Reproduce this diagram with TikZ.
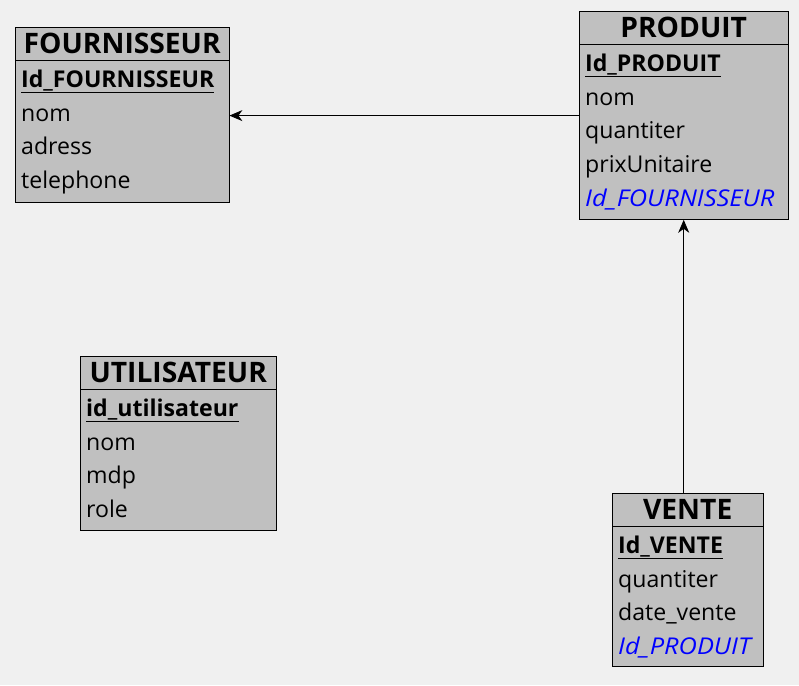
\documentclass[tikz,border=0pt]{standalone}
\usepackage{fontspec}
\setmainfont{Open Sans}[ItalicFeatures={FakeStretch=1.1}]
\usetikzlibrary{arrows.meta, positioning, calc}
\definecolor{tablegray}{HTML}{C0C0C0}
\definecolor{canvas}{HTML}{F0F0F0}
\definecolor{fkblue}{HTML}{0000FF}
% primary key: bold with a thick rule under it, foreign key: blue italic
\newcommand{\pkey}[1]{\setbox0\hbox{\bfseries #1}\rlap{\rule[-6pt]{\wd0}{1.4pt}}\box0}
\newcommand{\fkey}[1]{\textcolor{fkblue}{\itshape #1}}
\tikzset{
  thead/.style={rectangle, draw=black, fill=tablegray, minimum width=#1,
                minimum height=33pt, inner sep=0pt,
                font=\fontsize{28.2}{32}\selectfont\bfseries},
  tbody/.style 2 args={rectangle, draw=black, fill=tablegray, minimum width=#1,
                minimum height=#2, inner sep=0pt},
  attr/.style={anchor=base west, inner sep=0pt, text height=17pt, text depth=6pt,
               font=\fontsize{23.1}{27}\selectfont},
  fk/.style={-{Stealth[length=13pt, width=11pt, inset=4pt]}, line width=0.9pt, black},
}

\begin{document}
\begin{tikzpicture}[x=1pt, y=-1pt]
  \fill[canvas] (0,0) rectangle (799,685);

  % FOURNISSEUR
  \node[thead=214pt, anchor=north west] (fourn) at (15,27) {FOURNISSEUR};
  \node[tbody={214pt}{142pt}, below=0pt of fourn] (fourn-body) {};
  \foreach \a [count=\i] in {\pkey{Id\_FOURNISSEUR}, nom, adress, telephone}
    \node[attr] (fourn-\i) at ($(fourn-body.north west)+(6,27+33.7*\i-33.7)$) {\a};

  % PRODUIT
  \node[thead=209pt, anchor=north west] (prod) at (579,11) {PRODUIT};
  \node[tbody={209pt}{175pt}, below=0pt of prod] (prod-body) {};
  \foreach \a [count=\i] in {\pkey{Id\_PRODUIT}, nom, quantiter, prixUnitaire,
                             \fkey{Id\_FOURNISSEUR}}
    \node[attr] (prod-\i) at ($(prod-body.north west)+(6,27+33.7*\i-33.7)$) {\a};

  % UTILISATEUR
  \node[thead=196pt, anchor=north west] (util) at (80,356) {UTILISATEUR};
  \node[tbody={196pt}{141pt}, below=0pt of util] (util-body) {};
  \foreach \a [count=\i] in {\pkey{id\_utilisateur}, nom, mdp, role}
    \node[attr] (util-\i) at ($(util-body.north west)+(6,27+33.7*\i-33.7)$) {\a};

  % VENTE
  \node[thead=151pt, anchor=north west] (vente) at (612,493) {VENTE};
  \node[tbody={151pt}{140pt}, below=0pt of vente] (vente-body) {};
  \foreach \a [count=\i] in {\pkey{Id\_VENTE}, quantiter, date\_vente,
                             \fkey{Id\_PRODUIT}}
    \node[attr] (vente-\i) at ($(vente-body.north west)+(6,27+33.7*\i-33.7)$) {\a};

  \draw[fk] (prod-body.west |- fourn-2) -- (fourn-2 -| fourn-body.east);
  \draw[fk] (vente.north -| prod-body.south) -- (prod-body.south);
\end{tikzpicture}
\end{document}
